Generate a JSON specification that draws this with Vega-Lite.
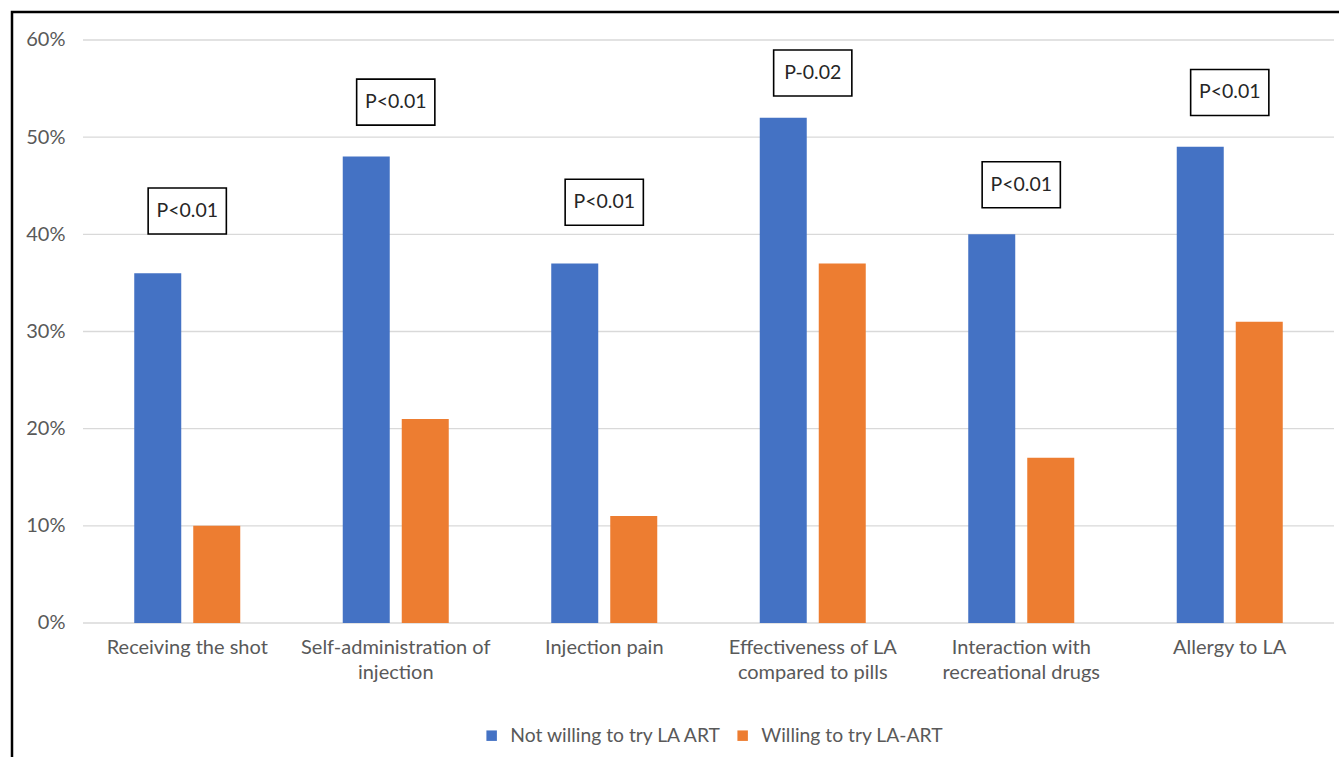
{
  "$schema": "https://vega.github.io/schema/vega-lite/v6.json",
  "autosize": {"type": "none"},
  "padding": {"left": 12, "top": 12, "right": -3, "bottom": -3},
  "width": 1330,
  "height": 748,
  "background": "white",
  "config": {
    "view": {"stroke": "black", "strokeWidth": 2.5},
    "font": "Lato",
    "axis": {"grid": false, "domain": false, "ticks": false, "title": null, "labelFontSize": 20, "labelColor": "#595959"},
    "axisX": {"orient": "bottom", "offset": -137, "labelPadding": 14, "labelLineHeight": 25, "labelAngle": 0, "labelLimit": 300},
    "axisY": {"offset": -71, "labelPadding": 18}
  },
  "datasets": {
    "bars": [
      {"cat": "Receiving the shot", "grp": "Not willing to try LA ART", "v": 0.36},
      {"cat": "Receiving the shot", "grp": "Willing to try LA-ART", "v": 0.10},
      {"cat": "Self-administration of injection", "grp": "Not willing to try LA ART", "v": 0.48},
      {"cat": "Self-administration of injection", "grp": "Willing to try LA-ART", "v": 0.21},
      {"cat": "Injection pain", "grp": "Not willing to try LA ART", "v": 0.37},
      {"cat": "Injection pain", "grp": "Willing to try LA-ART", "v": 0.11},
      {"cat": "Effectiveness of LA compared to pills", "grp": "Not willing to try LA ART", "v": 0.52},
      {"cat": "Effectiveness of LA compared to pills", "grp": "Willing to try LA-ART", "v": 0.37},
      {"cat": "Interaction with recreational drugs", "grp": "Not willing to try LA ART", "v": 0.40},
      {"cat": "Interaction with recreational drugs", "grp": "Willing to try LA-ART", "v": 0.17},
      {"cat": "Allergy to LA", "grp": "Not willing to try LA ART", "v": 0.49},
      {"cat": "Allergy to LA", "grp": "Willing to try LA-ART", "v": 0.31}
    ],
    "grid": [{"v": 0}, {"v": 0.1}, {"v": 0.2}, {"v": 0.3}, {"v": 0.4}, {"v": 0.5}, {"v": 0.6}],
    "pvals": [
      {"cat": "Receiving the shot", "v": 0.424, "label": "P<0.01"},
      {"cat": "Self-administration of injection", "v": 0.536, "label": "P<0.01"},
      {"cat": "Injection pain", "v": 0.433, "label": "P<0.01"},
      {"cat": "Effectiveness of LA compared to pills", "v": 0.566, "label": "P-0.02"},
      {"cat": "Interaction with recreational drugs", "v": 0.451, "label": "P<0.01"},
      {"cat": "Allergy to LA", "v": 0.546, "label": "P<0.01"}
    ]
  },
  "layer": [
    {
      "data": {"name": "grid"},
      "mark": {"type": "rule", "color": "#d9d9d9", "strokeWidth": 1.3},
      "encoding": {
        "x": {"datum": "Receiving the shot", "type": "nominal", "bandPosition": 0},
        "x2": {"datum": "Allergy to LA", "bandPosition": 1},
        "y": {"field": "v", "type": "quantitative", "scale": {"domain": [-0.141, 0.6288], "nice": false, "zero": false},
              "axis": {"values": [0, 0.1, 0.2, 0.3, 0.4, 0.5, 0.6], "format": ".0%"}}
      }
    },
    {
      "data": {"name": "bars"},
      "mark": {"type": "bar"},
      "encoding": {
        "x": {
          "field": "cat", "type": "nominal",
          "scale": {
            "domain": ["Receiving the shot", "Self-administration of injection", "Injection pain", "Effectiveness of LA compared to pills", "Interaction with recreational drugs", "Allergy to LA"],
            "range": [71, 1322], "paddingInner": 0, "paddingOuter": 0
          },
          "axis": {
            "labelExpr": "datum.label == 'Self-administration of injection' ? ['Self-administration of', 'injection'] : datum.label == 'Effectiveness of LA compared to pills' ? ['Effectiveness of LA', 'compared to pills'] : datum.label == 'Interaction with recreational drugs' ? ['Interaction with', 'recreational drugs'] : datum.label"
          }
        },
        "xOffset": {"field": "grp", "type": "nominal", "scale": {"paddingInner": 0.2034, "paddingOuter": 0.8686}},
        "y": {
          "field": "v", "type": "quantitative", "stack": null,
          "scale": {"domain": [-0.141, 0.6288], "nice": false, "zero": false},
          "axis": {"values": [0, 0.1, 0.2, 0.3, 0.4, 0.5, 0.6], "format": ".0%"}
        },
        "y2": {"datum": 0},
        "color": {
          "field": "grp", "type": "nominal",
          "scale": {"domain": ["Not willing to try LA ART", "Willing to try LA-ART"], "range": ["#4472C4", "#ED7D31"]},
          "legend": {
            "orient": "none", "legendX": 470, "legendY": 714, "direction": "horizontal", "title": null,
            "symbolType": "square", "symbolSize": 110, "symbolStrokeWidth": 0, "labelFontSize": 19.3, "labelLimit": 400,
            "labelColor": "#595959", "columnSpacing": 34, "labelOffset": 9, "padding": 0
          }
        }
      }
    },
    {
      "data": {"name": "pvals"},
      "mark": {"type": "point", "shape": "M-1.7,-1L1.7,-1L1.7,1L-1.7,1Z", "size": 2116, "filled": true, "fill": "white", "stroke": "black", "strokeWidth": 1.6, "opacity": 1},
      "encoding": {
        "x": {"field": "cat", "type": "nominal"},
        "y": {"field": "v", "type": "quantitative", "axis": {"values": [0, 0.1, 0.2, 0.3, 0.4, 0.5, 0.6], "format": ".0%"}}
      }
    },
    {
      "data": {"name": "pvals"},
      "mark": {"type": "text", "fontSize": 19.5, "color": "#262626", "align": "center", "baseline": "middle"},
      "encoding": {
        "x": {"field": "cat", "type": "nominal"},
        "y": {"field": "v", "type": "quantitative", "axis": {"values": [0, 0.1, 0.2, 0.3, 0.4, 0.5, 0.6], "format": ".0%"}},
        "text": {"field": "label"}
      }
    }
  ]
}
